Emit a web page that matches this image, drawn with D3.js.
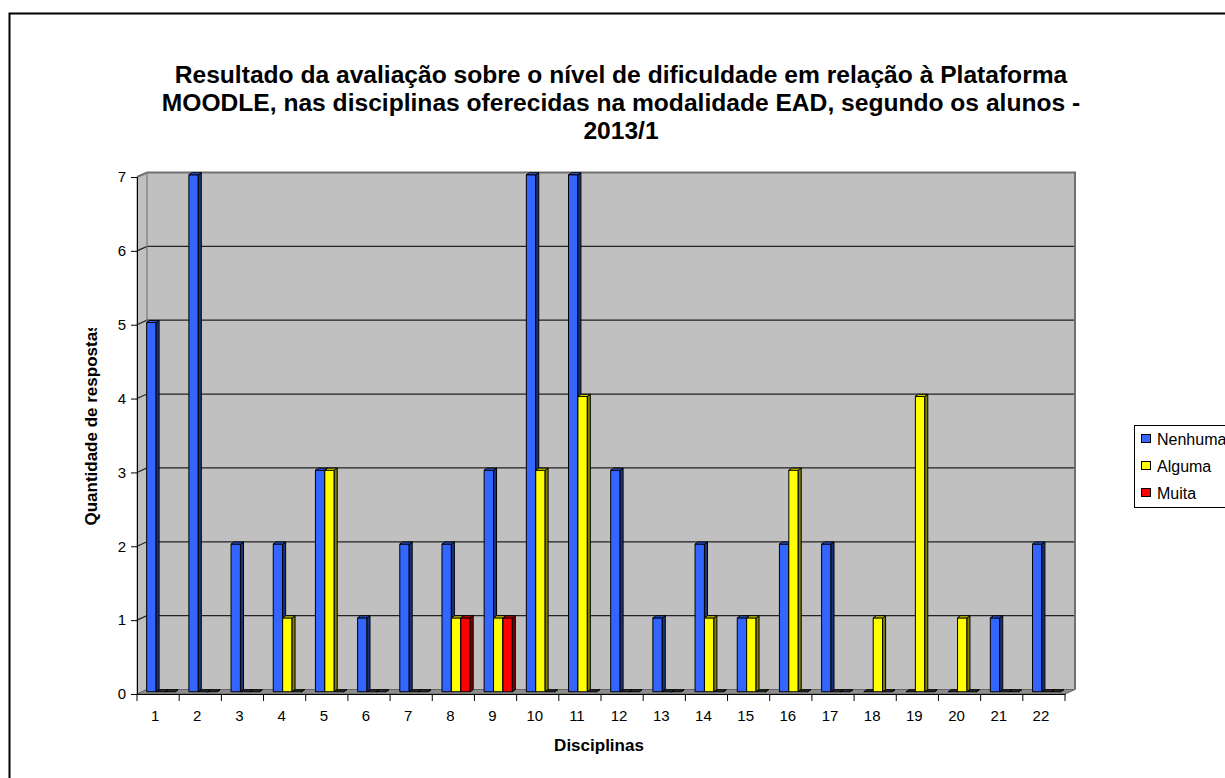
<!DOCTYPE html>
<meta charset="utf-8">
<style>
    body { margin: 0; background: #fff; }
    text { font-family: Arial, "Liberation Sans", sans-serif; fill: #000; }
    .title { font-size: 24.6px; font-weight: bold; }
    .axis path, .axis line { stroke: #000; }
    .axis-title { font-size: 17px; font-weight: bold; }
    .legend text { font-size: 16px; }
</style>
<body>
<script src="https://d3js.org/d3.v7.min.js"></script>
<script>

    var categories = ["1", "2", "3", "4", "5", "6", "7", "8", "9", "10", "11",
                      "12", "13", "14", "15", "16", "17", "18", "19", "20", "21", "22"];
    var seriesNames = ["Nenhuma", "Alguma", "Muita"];
    var nenhuma = [5, 7, 2, 2, 3, 1, 2, 2, 3, 7, 7, 3, 1, 2, 1, 2, 2, 0, 0, 0, 1, 2];
    var alguma  = [0, 0, 0, 1, 3, 0, 0, 1, 1, 3, 4, 0, 0, 1, 1, 3, 0, 1, 4, 1, 0, 0];
    var muita   = [0, 0, 0, 0, 0, 0, 0, 1, 1, 0, 0, 0, 0, 0, 0, 0, 0, 0, 0, 0, 0, 0];
    var yTicks = [0, 1, 2, 3, 4, 5, 6, 7];
    var titleLines = [
        "Resultado da avaliação sobre o nível de dificuldade em relação à Plataforma",
        "MOODLE, nas disciplinas oferecidas na modalidade EAD, segundo os alunos -",
        "2013/1"
    ];

    var colors = {
        Nenhuma: {front: "#3366ff", top: "#3366ff", side: "#1a337f"},
        Alguma:  {front: "#ffff00", top: "#ffff00", side: "#808000"},
        Muita:   {front: "#ff0000", top: "#ff0000", side: "#800000"}
    };

    var width = 1225, height = 778;
    var plot = {left: 137, right: 1065, top: 177, bottom: 694};
    var wallDx = 10, wallDy = -4.5;   // 3d depth of the walls
    var barDx = 3, barDy = -2;        // 3d depth of one bar

    var values = {Nenhuma: nenhuma, Alguma: alguma, Muita: muita};
    var data = [];
    categories.forEach(function(c, i) {
        seriesNames.forEach(function(s) {
            data.push({cat: c, series: s, value: values[s][i]});
        });
    });

    var x = d3.scaleBand()
            .domain(categories)
            .range([plot.left, plot.right]);

    var xs = d3.scaleBand()
            .domain(seriesNames)
            .range([4.7, 4.7 + 3 * 9.4]);

    var y = d3.scaleLinear()
            .domain([0, 7])
            .range([plot.bottom, plot.top]);

    var svg = d3.select("body").append("svg")
            .attr("width", width)
            .attr("height", height);

    // chart border
    svg.append("rect")
            .attr("x", 9.5).attr("y", 13.5)
            .attr("width", 1400).attr("height", 900)
            .attr("fill", "#fff")
            .attr("stroke", "#000")
            .attr("stroke-width", 2);

    // title
    svg.append("g").selectAll("text")
            .data(titleLines)
            .enter().append("text")
            .attr("class", "title")
            .attr("x", 621)
            .attr("y", function(d, i) { return 83 + i * 28; })
            .style("text-anchor", "middle")
            .text(function(d) { return d; });

    // walls
    var walls = svg.append("g").attr("class", "walls");

    walls.append("rect")
            .attr("x", plot.left + wallDx)
            .attr("y", plot.top + wallDy)
            .attr("width", plot.right - plot.left)
            .attr("height", plot.bottom - plot.top)
            .attr("fill", "#c0c0c0");

    walls.append("path")
            .attr("d", "M" + plot.left + "," + plot.top +
                       "L" + (plot.left + wallDx) + "," + (plot.top + wallDy) +
                       "L" + (plot.left + wallDx) + "," + (plot.bottom + wallDy) +
                       "L" + plot.left + "," + plot.bottom + "Z")
            .attr("fill", "#c0c0c0")
            .attr("stroke", "#808080");

    walls.append("path")
            .attr("d", "M" + plot.left + "," + plot.bottom +
                       "L" + (plot.left + wallDx) + "," + (plot.bottom + wallDy) +
                       "L" + (plot.right + wallDx) + "," + (plot.bottom + wallDy) +
                       "L" + plot.right + "," + plot.bottom + "Z")
            .attr("fill", "#8c8c8c")
            .attr("stroke", "#666");

    // gridlines
    var grid = walls.append("g");
    yTicks.filter(function(v) { return v > 0 && v < 7; }).forEach(function(v) {
        grid.append("path")
                .attr("d", "M" + plot.left + "," + y(v) +
                           "L" + (plot.left + wallDx) + "," + (y(v) + wallDy) +
                           "L" + (plot.right + wallDx) + "," + (y(v) + wallDy))
                .attr("fill", "none")
                .attr("stroke", "#222")
                .attr("stroke-width", 1.2);
    });

    // top and right edge of the back wall
    walls.append("path")
            .attr("d", "M" + plot.left + "," + plot.top +
                       "L" + (plot.left + wallDx) + "," + (plot.top + wallDy) +
                       "L" + (plot.right + wallDx) + "," + (plot.top + wallDy) +
                       "L" + (plot.right + wallDx) + "," + (plot.bottom + wallDy))
            .attr("fill", "none")
            .attr("stroke", "#707070")
            .attr("stroke-width", 2);

    walls.append("line")
            .attr("x1", plot.left + wallDx).attr("x2", plot.left + wallDx)
            .attr("y1", plot.top + wallDy).attr("y2", plot.bottom + wallDy)
            .attr("stroke", "#8a8a8a");

    // bars
    var bars = svg.append("g").attr("class", "bars")
            .selectAll("g")
            .data(data)
            .enter().append("g")
            .attr("stroke", "#000")
            .attr("stroke-width", 1)
            .attr("stroke-linejoin", "round");

    function barX(d) { return x(d.cat) + xs(d.series) + wallDx / 2; }
    function barTop(d) { return y(d.value) + wallDy / 2; }
    var base = y(0) + wallDy / 2;
    var bw = xs.bandwidth();

    bars.append("rect")
            .attr("x", barX)
            .attr("y", barTop)
            .attr("width", bw)
            .attr("height", function(d) { return base - barTop(d); })
            .attr("fill", function(d) { return colors[d.series].front; });

    bars.append("path")
            .attr("d", function(d) {
                var a = barX(d) + bw, t = barTop(d);
                return "M" + a + "," + t + "L" + (a + barDx) + "," + (t + barDy) +
                       "L" + (a + barDx) + "," + (base + barDy) + "L" + a + "," + base + "Z";
            })
            .attr("fill", function(d) { return colors[d.series].side; });

    bars.append("path")
            .attr("d", function(d) {
                var a = barX(d), t = barTop(d);
                return "M" + a + "," + t + "L" + (a + barDx) + "," + (t + barDy) +
                       "L" + (a + bw + barDx) + "," + (t + barDy) + "L" + (a + bw) + "," + t + "Z";
            })
            .attr("fill", function(d) { return d.value ? colors[d.series].top : "#333"; });

    // y axis
    svg.append("g")
            .attr("class", "axis y")
            .attr("transform", "translate(" + plot.left + ",0)")
            .call(d3.axisLeft(y).tickValues(yTicks).tickFormat(d3.format("d"))
                    .tickSize(6).tickSizeOuter(0).tickPadding(5))
            .attr("font-family", null)
            .style("font-size", "15px");

    // x axis: labels at centers, ticks at category boundaries
    var xAxis = svg.append("g")
            .attr("class", "axis x")
            .attr("transform", "translate(0," + plot.bottom + ")")
            .call(d3.axisBottom(x).tickSize(0).tickPadding(16).tickSizeOuter(0))
            .attr("font-family", null)
            .style("font-size", "15px");
    xAxis.selectAll("text").attr("dx", "-0.2em");

    xAxis.append("g").selectAll("line")
            .data(categories.concat([null]))
            .enter().append("line")
            .attr("x1", function(d) { return d === null ? plot.right : x(d); })
            .attr("x2", function(d) { return d === null ? plot.right : x(d); })
            .attr("y1", 0).attr("y2", 7)
            .attr("stroke", "#000");

    // axis titles
    svg.append("text")
            .attr("class", "axis-title")
            .attr("x", 599).attr("y", 751)
            .style("text-anchor", "middle")
            .text("Disciplinas");

    // the value axis title is cut off at its top end in the original
    svg.append("defs").append("clipPath")
            .attr("id", "ytitleClip")
            .append("rect")
            .attr("x", 60).attr("y", 328)
            .attr("width", 60).attr("height", 400);

    svg.append("g")
            .attr("clip-path", "url(#ytitleClip)")
            .append("text")
            .attr("class", "axis-title")
            .attr("transform", "translate(97,424) rotate(-90)")
            .style("text-anchor", "middle")
            .text("Quantidade de respostas");

    // legend
    var legend = svg.append("g").attr("class", "legend");
    legend.append("rect")
            .attr("x", 1134.5).attr("y", 425.5)
            .attr("width", 200).attr("height", 82)
            .attr("fill", "#fff")
            .attr("stroke", "#000");

    var item = legend.selectAll("g.item")
            .data(seriesNames)
            .enter().append("g")
            .attr("class", "item")
            .attr("transform", function(d, i) { return "translate(1141," + (439 + i * 27) + ")"; });

    item.append("rect")
            .attr("x", 0.5).attr("y", -4.5)
            .attr("width", 9).attr("height", 8)
            .attr("fill", function(d) { return colors[d].front; })
            .attr("stroke", "#000");

    item.append("text")
            .attr("x", 16).attr("dy", "0.35em")
            .text(function(d) { return d; });

</script>
